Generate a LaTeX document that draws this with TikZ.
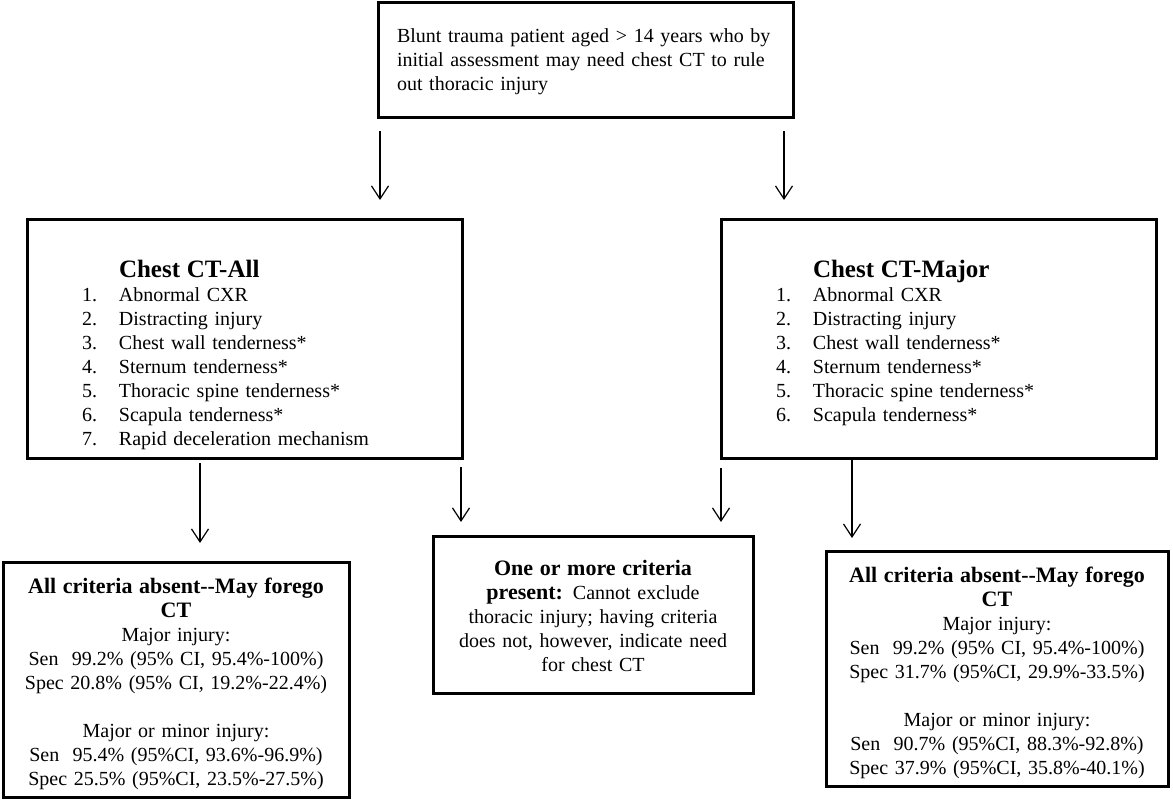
\documentclass[tikz,border=0pt]{standalone}
\usepackage{fontspec}
\setmainfont{Liberation Serif}
\usetikzlibrary{arrows.meta, positioning}

\newcommand{\critline}[2]{\makebox[37pt][l]{#1}#2}
\newcommand{\boxhead}[1]{{\fontsize{22}{24}\selectfont\bfseries #1}}

\begin{document}
\begin{tikzpicture}[
    box/.style={draw, line width=3pt, outer sep=0pt, inner ysep=0pt,
        font=\fontsize{20}{24}\selectfont},
    listbox/.style={box, align=left, text width=325pt, inner xsep=55pt,
        text height=58pt, text depth=181pt},
    resultbox/.style={box, align=center, inner xsep=8pt,
        text height=31pt, text depth=204pt},
    arrow/.style={line width=1.2pt, -{Straight Barb[length=13pt, width=17pt]}}]
    \useasboundingbox (0pt,0pt) rectangle (1173pt,-800pt);

    \node[box, anchor=north west, align=left, inner xsep=19pt, text width=377pt,
          text height=40pt, text depth=74pt] (Patient) at (378pt,-3pt)
        {Blunt trauma patient aged > 14 years who by\\
         initial assessment may need chest CT to rule\\
         out thoracic injury};

    \node[listbox, anchor=north west] (All) at (27pt,-219pt)
        {\hspace*{37pt}{\fontsize{25}{24}\selectfont\bfseries Chest CT-All}\\
         \critline{1.}{Abnormal CXR}\\
         \critline{2.}{Distracting injury}\\
         \critline{3.}{Chest wall tenderness*}\\
         \critline{4.}{Sternum tenderness*}\\
         \critline{5.}{Thoracic spine tenderness*}\\
         \critline{6.}{Scapula tenderness*}\\
         \critline{7.}{Rapid deceleration mechanism}};

    \node[listbox, right=259pt of All] (Major)
        {\hspace*{37pt}{\fontsize{25}{24}\selectfont\bfseries Chest CT-Major}\\
         \critline{1.}{Abnormal CXR}\\
         \critline{2.}{Distracting injury}\\
         \critline{3.}{Chest wall tenderness*}\\
         \critline{4.}{Sternum tenderness*}\\
         \critline{5.}{Thoracic spine tenderness*}\\
         \critline{6.}{Scapula tenderness*}};

    \node[resultbox, anchor=north west, text width=330pt] (All out) at (3pt,-562pt)
        {\boxhead{All criteria absent-{}-May forego}\\
         \boxhead{CT}\\
         Major injury:\\
         Sen\ \ 99.2\% (95\% CI, 95.4\%-100\%)\\
         Spec 20.8\% (95\% CI, 19.2\%-22.4\%)\\[24pt]
         Major or minor injury:\\
         Sen\ \ 95.4\% (95\%CI, 93.6\%-96.9\%)\\
         Spec 25.5\% (95\%CI, 23.5\%-27.5\%)};

    \node[box, anchor=north west, align=center, inner xsep=12pt, text width=296pt,
          text height=39pt, text depth=118pt] (Present) at (433pt,-536pt)
        {\boxhead{One or more criteria}\\
         \boxhead{present:} Cannot exclude\\
         thoracic injury; having criteria\\
         does not, however, indicate need\\
         for chest CT};

    \node[resultbox, anchor=north west, text width=326pt] (Major out) at (826pt,-551pt)
        {\boxhead{All criteria absent-{}-May forego}\\
         \boxhead{CT}\\
         Major injury:\\
         Sen\ \ 99.2\% (95\% CI, 95.4\%-100\%)\\
         Spec 31.7\% (95\%CI, 29.9\%-33.5\%)\\[24pt]
         Major or minor injury:\\
         Sen\ \ 90.7\% (95\%CI, 88.3\%-92.8\%)\\
         Spec 37.9\% (95\%CI, 35.8\%-40.1\%)};

    % arrows
    \draw[arrow, shorten <=14pt, shorten >=19pt]
        ([xshift=2pt]Patient.south west) -- ([xshift=2pt]Patient.south west |- All.north);
    \draw[arrow, shorten <=14pt, shorten >=19pt]
        ([xshift=-9pt]Patient.south east) -- ([xshift=-9pt]Patient.south east |- Major.north);
    \draw[arrow, shorten <=5pt, shorten >=19pt]
        ([xshift=173pt]All.south west) -- ([xshift=173pt]All.south west |- All out.north);
    \draw[arrow, shorten <=9pt, shorten >=14pt]
        ([xshift=-1pt]All.south east) -- ([xshift=-1pt]All.south east |- Present.north);
    \draw[arrow, shorten <=10pt, shorten >=14pt]
        (Major.south west) -- (Major.south west |- Present.north);
    \draw[arrow, shorten >=13pt]
        ([xshift=131pt]Major.south west) -- ([xshift=131pt]Major.south west |- Major out.north);
\end{tikzpicture}
\end{document}
